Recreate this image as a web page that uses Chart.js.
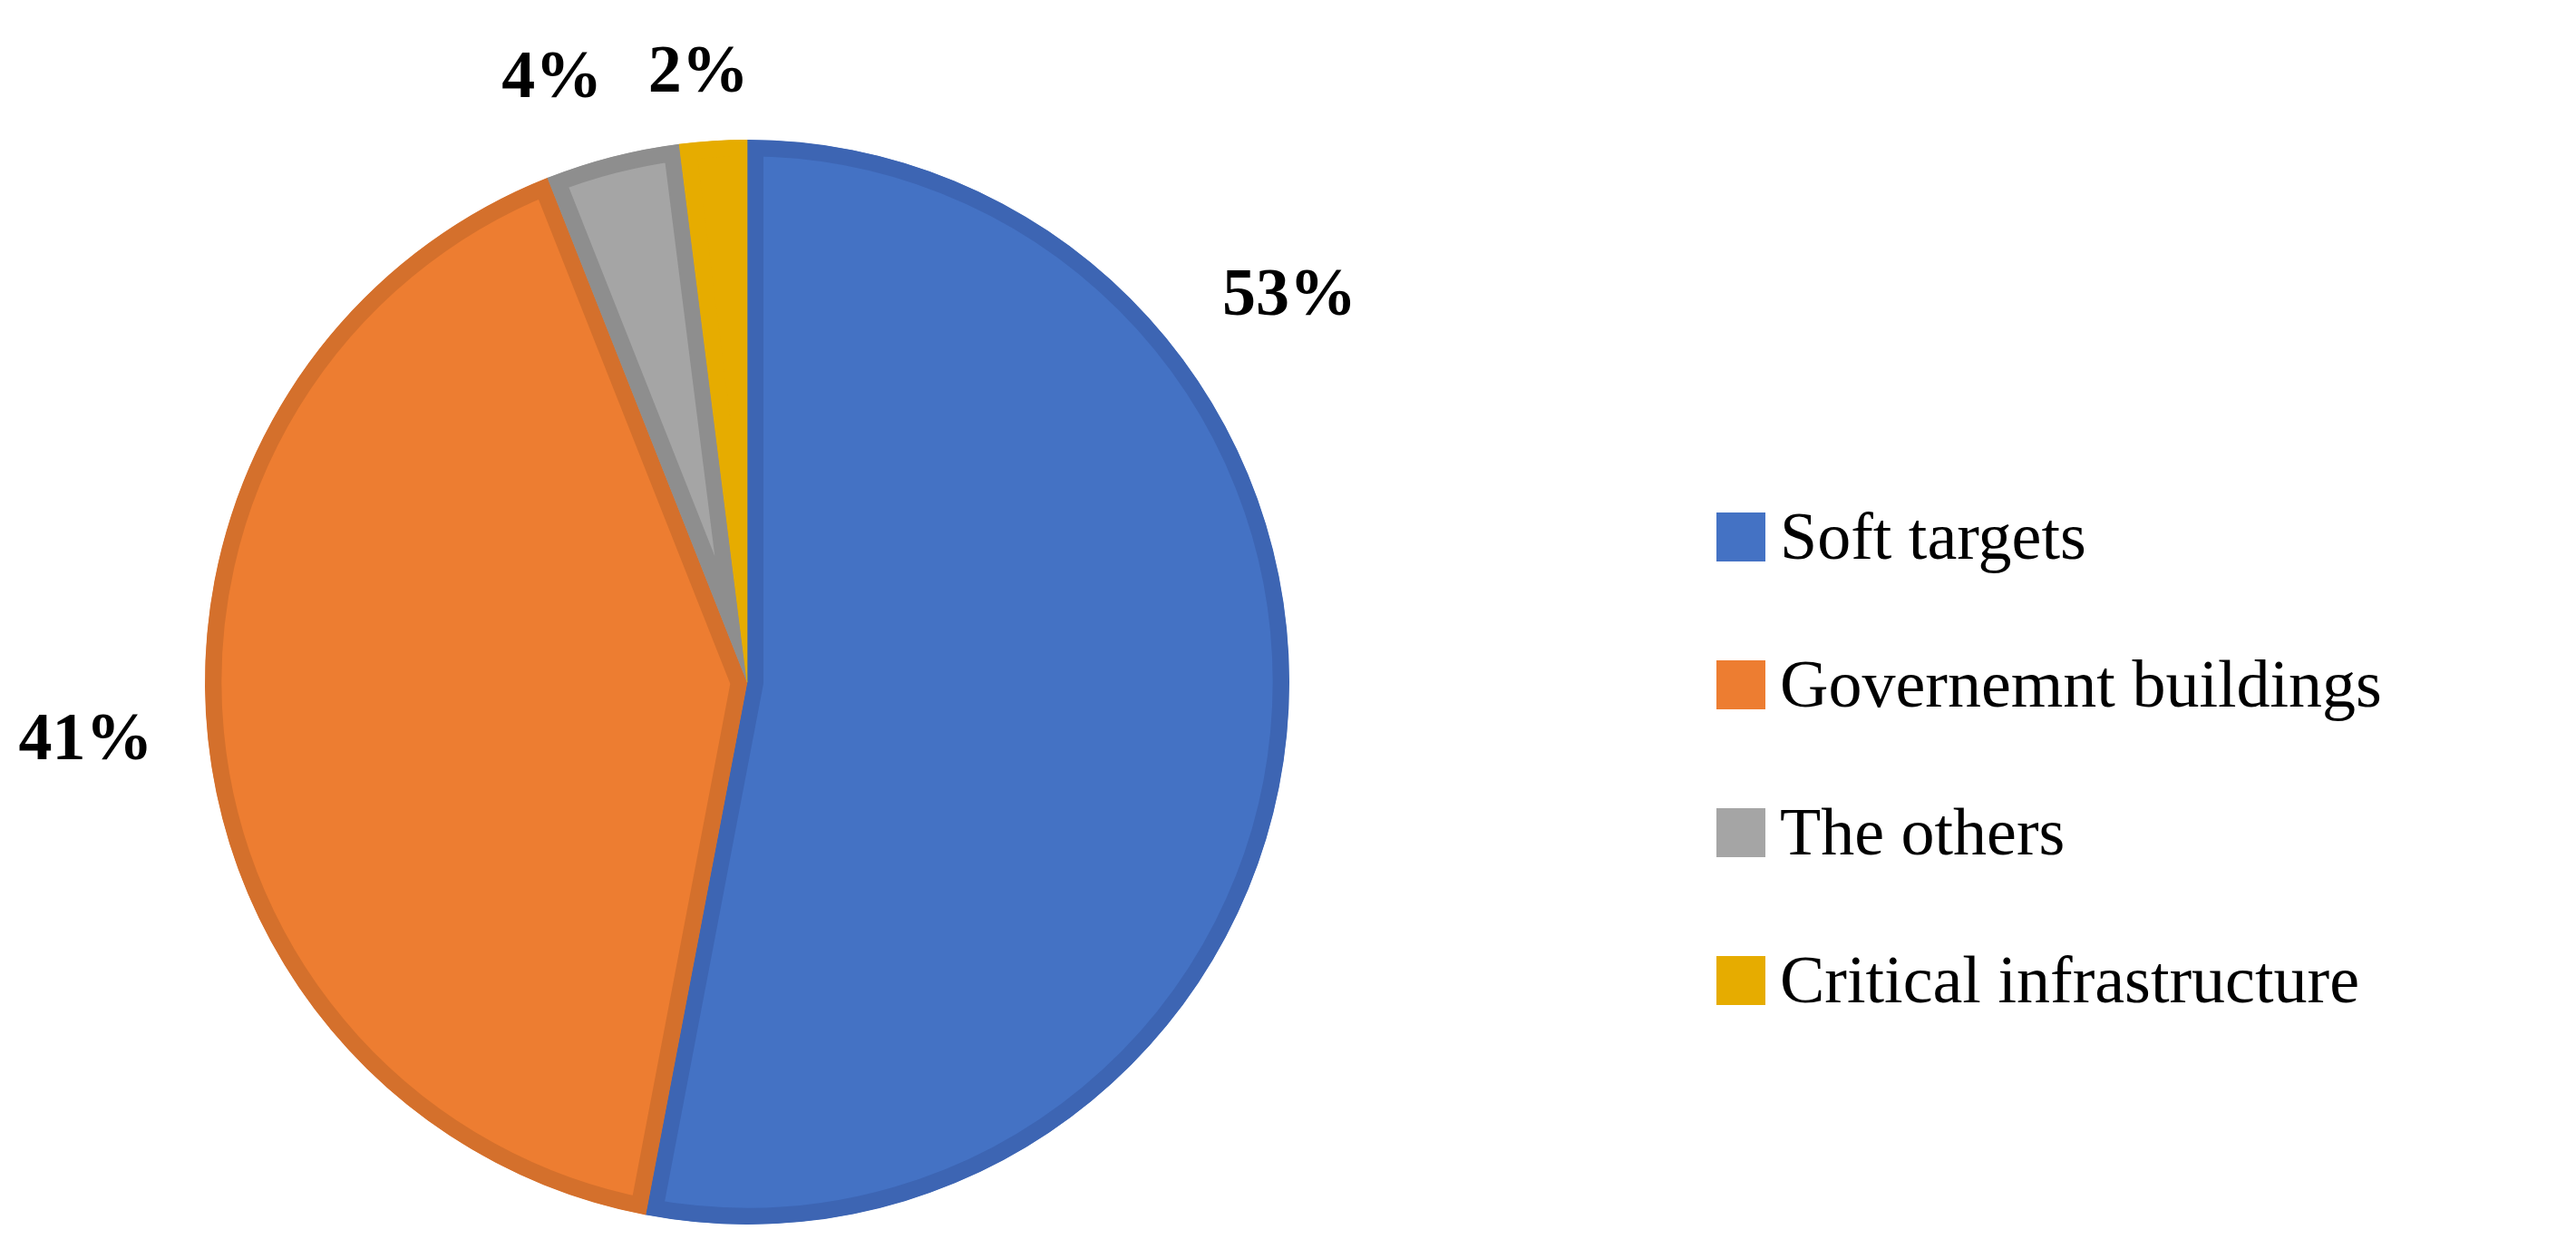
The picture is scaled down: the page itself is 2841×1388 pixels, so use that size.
<!DOCTYPE html>
<html>
<head>
<meta charset="utf-8">
<script src="https://cdn.jsdelivr.net/npm/chart.js@4"></script>
<style>
  body { margin: 0; background: #fff; }
  #wrap { position: relative; width: 2841px; height: 1388px; }
  #legend { position: absolute; left: 1893px; top: 510px; font-family: "Liberation Serif", "DejaVu Serif", serif; font-size: 74px; color: #000; }
  .item { display: flex; align-items: center; height: 163px; }
  .sw { width: 54px; height: 54px; margin-right: 16px; }
</style>
</head>
<body>
<div id="wrap">
  <canvas id="pie" width="2841" height="1388"></canvas>
  <div id="legend"></div>
</div>
<script>
const categories = ["Soft targets", "Governemnt buildings", "The others", "Critical infrastructure"];
const shares = [53, 41, 4, 2];
const fills = ["#4472C4", "#ED7D31", "#A5A5A5", "#E6AC00"];
const borders = ["#3D65B3", "#D4702C", "#8E8E8E", "#E6AC00"];
// label offsets relative to pie center, in units of radius
const labelSpots = [[1.0, -0.71], [-1.22, 0.11], [-0.36, -1.11], [-0.09, -1.12]];

const labelPlugin = {
  id: "pctLabels",
  afterDraw(chart) {
    const arc = chart.getDatasetMeta(0).data[0];
    const ctx = chart.ctx;
    ctx.save();
    ctx.font = "bold 74px 'Liberation Serif', 'DejaVu Serif', serif";
    ctx.fillStyle = "#000";
    ctx.textAlign = "center";
    ctx.textBaseline = "middle";
    shares.forEach((v, i) => {
      const [fx, fy] = labelSpots[i];
      ctx.fillText(v + "%", arc.x + fx * arc.outerRadius, arc.y + fy * arc.outerRadius);
    });
    ctx.restore();
  }
};

new Chart(document.getElementById("pie"), {
  type: "pie",
  data: {
    labels: categories,
    datasets: [{
      data: shares,
      backgroundColor: fills,
      borderColor: borders,
      borderWidth: 18,
      borderAlign: "inner",
    }],
  },
  options: {
    responsive: false,
    animation: false,
    layout: { padding: { left: 226, right: 1419, top: 154, bottom: 38 } },
    plugins: { legend: { display: false }, tooltip: { enabled: false } },
  },
  plugins: [labelPlugin],
});

const legend = document.getElementById("legend");
categories.forEach((name, i) => {
  const row = document.createElement("div");
  row.className = "item";
  row.innerHTML = `<span class="sw" style="background:${fills[i]}"></span><span>${name}</span>`;
  legend.appendChild(row);
});
</script>
</body>
</html>
